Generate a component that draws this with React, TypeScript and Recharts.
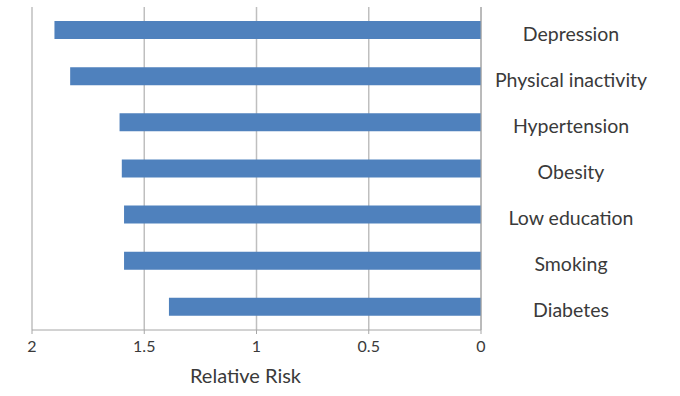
import React from 'react';
import { Bar, BarChart, CartesianGrid, XAxis, YAxis } from 'recharts';

const factors = ['Depression', 'Physical inactivity', 'Hypertension', 'Obesity', 'Low education', 'Smoking', 'Diabetes'];
const relativeRisk = [1.9, 1.83, 1.61, 1.6, 1.59, 1.59, 1.39];
const xTicks = [0, 0.5, 1, 1.5, 2];

const data = factors.map((name, i) => ({ name, risk: relativeRisk[i] }));

const FONT = 'Lato, "Open Sans", sans-serif';

// labels sit to the right of the plot, centred in their column
const FactorTick = (props: any) => {
  const { x, y, payload } = props;
  return (
    <text x={x + 82} y={y + 3} textAnchor="middle" dominantBaseline="central" fontSize={19.5} fill="#3a3a3a" fontFamily={FONT}>
      {payload.value}
    </text>
  );
};

const App: React.FC = () => {
  return (
    <div style={{ position: 'absolute', left: 0, top: 0, background: '#fff' }}>
      <BarChart
        width={680}
        height={396}
        data={data}
        layout="vertical"
        margin={{ top: 7, right: 0, bottom: 10, left: 32 }}
        barSize={18}
      >
        <CartesianGrid horizontal={false} stroke="#bfbfbf" strokeWidth={1.5} />
        <XAxis
          type="number"
          domain={[0, 2]}
          ticks={xTicks}
          reversed
          height={56}
          tickSize={4}
          tickMargin={7}
          stroke="#a6a6a6"
          tick={{ fill: '#3a3a3a', fontSize: 16, fontFamily: FONT }}
          tickFormatter={(v: number) => String(v)}
          label={{ value: 'Relative Risk', position: 'insideBottom', offset: 3, dx: -11, fill: '#3a3a3a', fontSize: 20, fontFamily: FONT }}
        />
        <YAxis
          type="category"
          dataKey="name"
          orientation="right"
          width={199}
          axisLine={{ stroke: '#a6a6a6' }}
          tickLine={false}
          tick={<FactorTick />}
          interval={0}
        />
        <Bar dataKey="risk" fill="#4f81bd" isAnimationActive={false} />
      </BarChart>
    </div>
  );
};

export default App;
